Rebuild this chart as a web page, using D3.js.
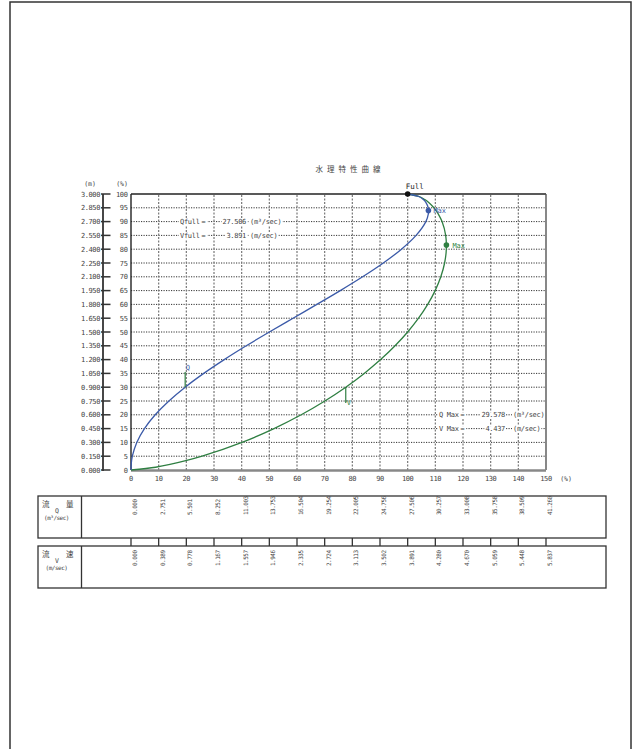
<!DOCTYPE html>
<html>
<head>
<meta charset="utf-8">
<script src="https://cdn.jsdelivr.net/npm/d3@7"></script>
<style>
  body { margin: 0; background: #fff; }
  svg text { font-family: "DejaVu Sans Mono", "Liberation Mono", monospace; fill: #444; }
  svg text.jp { font-family: "Noto Sans CJK JP", sans-serif; }
</style>
</head>
<body>
<svg id="chart" width="635" height="749"></svg>
<script>
// depth ratio (%) and the two curves (% of full)
const depth  = [0, 1, 2, 5, 10, 15, 20, 25, 30, 35, 40, 45, 50, 55, 60, 65, 70, 75, 80, 85, 90, 93, 94, 95, 97, 98, 99, 100]
const qRatio = [0, 0.02, 0.07, 0.48, 2.09, 4.86, 8.76, 13.70, 19.58, 26.29, 33.70, 41.65, 50.00, 58.57, 67.18, 75.64, 83.72, 91.19, 97.75, 103.04, 106.58, 107.52, 107.57, 107.45, 106.57, 105.67, 104.20, 100]
const vRatio = [0, 8.90, 14.08, 25.69, 40.11, 51.68, 61.51, 70.07, 77.62, 84.30, 90.22, 95.44, 100, 103.93, 107.24, 109.93, 111.98, 113.35, 113.97, 113.74, 112.43, 110.93, 110.27, 109.50, 107.51, 106.18, 104.37, 100]

const pctTicks = [0, 5, 10, 15, 20, 25, 30, 35, 40, 45, 50, 55, 60, 65, 70, 75, 80, 85, 90, 95, 100]
const mTicks = [0, 0.15, 0.3, 0.45, 0.6, 0.75, 0.9, 1.05, 1.2, 1.35, 1.5, 1.65, 1.8, 1.95, 2.1, 2.25, 2.4, 2.55, 2.7, 2.85, 3.0]
const xTicks = [0, 10, 20, 30, 40, 50, 60, 70, 80, 90, 100, 110, 120, 130, 140, 150]

// table rows (flow / velocity at each x tick)
const qValues = [0.000, 2.751, 5.501, 8.252, 11.003, 13.753, 16.504, 19.254, 22.005, 24.756, 27.506, 30.257, 33.008, 35.758, 38.509, 41.260]
const vValues = [0.000, 0.389, 0.778, 1.167, 1.557, 1.946, 2.335, 2.724, 3.113, 3.502, 3.891, 4.280, 4.670, 5.059, 5.448, 5.837]

const qFull = 27.506, vFull = 3.891
const qMax = { r: 107.5, h: 94, value: 29.578 }
const vMax = { r: 114.0, h: 81.5, value: 4.437 }

const blue = '#3b5aa8'
const green = '#2f7f42'

const svg = d3.select('#chart')

// page frame
svg.append('rect')
    .attr('x', 10).attr('y', 2).attr('width', 621).attr('height', 770)
    .attr('fill', 'none').attr('stroke', '#333').attr('stroke-width', 1.5)

const x = d3.scaleLinear().domain([0, 150]).range([131, 546])
const y = d3.scaleLinear().domain([0, 100]).range([470, 194])
const yM = d3.scaleLinear().domain([0, 3]).range([470, 194])

// title
svg.append('text').attr('class', 'jp')
    .attr('x', 350).attr('y', 172)
    .attr('text-anchor', 'middle')
    .style('font-size', '7.5px')
    .style('letter-spacing', '4px')
    .text('水理特性曲線')

// grid
svg.append('g').selectAll('line')
    .data(pctTicks.slice(1, -1))
    .enter().append('line')
    .attr('x1', x(0)).attr('x2', x(150))
    .attr('y1', d => y(d)).attr('y2', d => y(d))
    .attr('stroke', '#333').attr('stroke-width', 1)
    .attr('stroke-dasharray', '1.2,1.3')
svg.append('g').selectAll('line')
    .data(xTicks.slice(1, -1))
    .enter().append('line')
    .attr('x1', d => x(d)).attr('x2', d => x(d))
    .attr('y1', y(0)).attr('y2', y(100))
    .attr('stroke', '#777').attr('stroke-width', 1.2)
    .attr('stroke-dasharray', '2,1.5')

// text with white patch behind, so the grid does not run through it
function patchText(px, py, str, anchor, color) {
    const g = svg.append('g')
    const t = g.append('text')
        .attr('x', px).attr('y', py)
        .attr('text-anchor', anchor)
        .style('font-size', '7px')
        .style('letter-spacing', '-0.3px')
        .style('fill', color || '#444')
        .text(str)
    const b = t.node().getBBox()
    g.insert('rect', 'text')
        .attr('x', b.x - 1).attr('y', b.y + 1)
        .attr('width', b.width + 2).attr('height', b.height - 2)
        .attr('fill', '#fff')
    return t
}

// full / max annotations
patchText(180, y(90) + 2.5, 'Qfull＝', 'start')
patchText(246, y(90) + 2.5, qFull.toFixed(3), 'end')
patchText(250, y(90) + 2.5, '(m³/sec)', 'start')
patchText(180, y(85) + 2.5, 'Vfull＝', 'start')
patchText(246, y(85) + 2.5, vFull.toFixed(3), 'end')
patchText(250, y(85) + 2.5, '(m/sec)', 'start')

patchText(439, y(20) + 2.5, 'Q Max＝', 'start')
patchText(505, y(20) + 2.5, qMax.value.toFixed(3), 'end')
patchText(513, y(20) + 2.5, '(m³/sec)', 'start')
patchText(439, y(15) + 2.5, 'V Max＝', 'start')
patchText(505, y(15) + 2.5, vMax.value.toFixed(3), 'end')
patchText(513, y(15) + 2.5, '(m/sec)', 'start')

// plot frame
svg.append('line').attr('x1', x(0)).attr('x2', x(150)).attr('y1', y(100)).attr('y2', y(100))
    .attr('stroke', '#222').attr('stroke-width', 1.6)
svg.append('line').attr('x1', x(150)).attr('x2', x(150)).attr('y1', y(100)).attr('y2', y(0))
    .attr('stroke', '#555').attr('stroke-width', 1.4)
svg.append('line').attr('x1', x(0)).attr('x2', x(0)).attr('y1', y(100)).attr('y2', y(0))
    .attr('stroke', '#222').attr('stroke-width', 1.4)
svg.append('line').attr('x1', x(0)).attr('x2', x(150)).attr('y1', y(0) + 0.5).attr('y2', y(0) + 0.5)
    .attr('stroke', '#888').attr('stroke-width', 2.4)

// left axes: metres and percent
svg.append('line').attr('x1', 103).attr('x2', 103).attr('y1', y(100)).attr('y2', y(0) + 1)
    .attr('stroke', '#333').attr('stroke-width', 1.8)
svg.append('g').selectAll('line')
    .data(mTicks)
    .enter().append('line')
    .attr('x1', 101).attr('x2', 110.5)
    .attr('y1', d => yM(d)).attr('y2', d => yM(d))
    .attr('stroke', '#333').attr('stroke-width', 1.5)
svg.append('g').selectAll('text')
    .data(mTicks)
    .enter().append('text')
    .attr('x', 100).attr('y', d => yM(d) + 2.5)
    .attr('text-anchor', 'end')
    .style('font-size', '7px')
    .style('letter-spacing', '-0.4px')
    .text(d => d.toFixed(3))
svg.append('g').selectAll('text')
    .data(pctTicks)
    .enter().append('text')
    .attr('x', 127.5).attr('y', d => y(d) + 2.5)
    .attr('text-anchor', 'end')
    .style('font-size', '7px')
    .style('letter-spacing', '-0.4px')
    .text(d => d)
svg.append('text').attr('x', 90).attr('y', 186).attr('text-anchor', 'middle')
    .style('font-size', '6.5px').text('(m)')
svg.append('text').attr('x', 122).attr('y', 186).attr('text-anchor', 'middle')
    .style('font-size', '6.5px').text('(%)')

// bottom axis labels
svg.append('g').selectAll('text')
    .data(xTicks)
    .enter().append('text')
    .attr('x', d => x(d)).attr('y', 480.5)
    .attr('text-anchor', 'middle')
    .style('font-size', '7px')
    .style('letter-spacing', '-0.4px')
    .text(d => d)
svg.append('text').attr('x', x(150) + 20).attr('y', 480.5).attr('text-anchor', 'middle')
    .style('font-size', '6.5px').text('(%)')

// curves
const qData = depth.map((h, i) => ({ h: h, r: qRatio[i] }))
const vData = depth.map((h, i) => ({ h: h, r: vRatio[i] }))
const line = d3.line()
    .x(d => x(d.r))
    .y(d => y(d.h))
    .curve(d3.curveCatmullRom.alpha(0.5))

svg.append('path').datum(vData)
    .attr('d', line)
    .attr('fill', 'none').attr('stroke', green).attr('stroke-width', 1.3)
svg.append('path').datum(qData)
    .attr('d', line)
    .attr('fill', 'none').attr('stroke', blue).attr('stroke-width', 1.3)

// curve name markers
svg.append('line')
    .attr('x1', x(qRatio[8])).attr('x2', x(qRatio[8]))
    .attr('y1', y(30)).attr('y2', y(35.5))
    .attr('stroke', green).attr('stroke-width', 1.2)
svg.append('text').attr('x', x(qRatio[8]) + 0.5).attr('y', y(36.2))
    .style('font-size', '7px').style('fill', blue).text('Q')
svg.append('line')
    .attr('x1', x(vRatio[8])).attr('x2', x(vRatio[8]))
    .attr('y1', y(30)).attr('y2', y(24.3))
    .attr('stroke', green).attr('stroke-width', 1.2)
svg.append('text').attr('x', x(vRatio[8]) + 1).attr('y', y(23.6))
    .style('font-size', '7px').style('fill', green).text('V')

// max points and full point
svg.append('circle').attr('cx', x(qMax.r)).attr('cy', y(qMax.h)).attr('r', 2.8).attr('fill', blue)
svg.append('text').attr('x', x(qMax.r) + 5).attr('y', y(qMax.h) + 2.5)
    .style('font-size', '7px').style('fill', blue).text('Max')
svg.append('circle').attr('cx', x(vMax.r)).attr('cy', y(vMax.h)).attr('r', 2.8).attr('fill', green)
svg.append('text').attr('x', x(vMax.r) + 6).attr('y', y(vMax.h) + 2.5)
    .style('font-size', '7px').style('fill', green).text('Max')
svg.append('circle').attr('cx', x(100)).attr('cy', y(100)).attr('r', 2.8).attr('fill', '#111')
svg.append('text').attr('x', x(100) - 2).attr('y', y(100) - 5.5)
    .style('font-size', '7.5px').style('fill', '#222').text('Full')

// table
const boxL = 38, boxR = 606, sep = 81.5
function drawBox(top, bottom) {
    svg.append('rect')
        .attr('x', boxL).attr('y', top).attr('width', boxR - boxL).attr('height', bottom - top)
        .attr('fill', 'none').attr('stroke', '#333').attr('stroke-width', 1.3)
    svg.append('line').attr('x1', sep).attr('x2', sep).attr('y1', top).attr('y2', bottom)
        .attr('stroke', '#333').attr('stroke-width', 1.3)
}
drawBox(496, 538)
drawBox(546, 588)

svg.append('g').selectAll('line')
    .data(xTicks)
    .enter().append('line')
    .attr('x1', d => x(d)).attr('x2', d => x(d))
    .attr('y1', 538).attr('y2', 546)
    .attr('stroke', '#333').attr('stroke-width', 1.3)

function rowHead(top, kanji2, sym, unit) {
    svg.append('text').attr('class', 'jp').attr('x', 42).attr('y', top + 10.5)
        .style('font-size', '7.5px').text('流')
    svg.append('text').attr('class', 'jp').attr('x', 66).attr('y', top + 10.5)
        .style('font-size', '7.5px').text(kanji2)
    svg.append('text').attr('x', 57).attr('y', top + 17).attr('text-anchor', 'middle')
        .style('font-size', '6.5px').text(sym)
    svg.append('text').attr('x', 56.5).attr('y', top + 23.5).attr('text-anchor', 'middle')
        .style('font-size', '6px').style('letter-spacing', '-0.5px').text(unit)
}
rowHead(496, '量', 'Q', '(m³/sec)')
rowHead(546, '速', 'V', '(m/sec)')

function rowValues(values, base) {
    svg.append('g').selectAll('text')
        .data(values)
        .enter().append('text')
        .attr('transform', (d, i) => `translate(${x(xTicks[i]) + 3.5},${base}) rotate(-90)`)
        .attr('dominant-baseline', 'central')
        .style('font-size', '6px')
        .style('letter-spacing', '-0.5px')
        .text(d => d.toFixed(3))
}
rowValues(qValues, 515)
rowValues(vValues, 566)
</script>
</body>
</html>
